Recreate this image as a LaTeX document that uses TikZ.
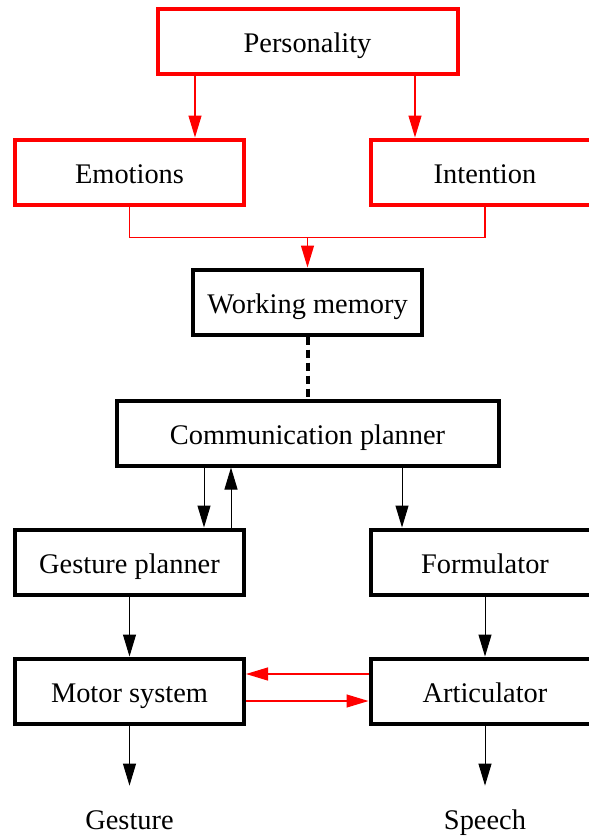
\documentclass[tikz,border=0pt]{standalone}
\usepackage{fontspec}
\setmainfont{Liberation Serif}
\usetikzlibrary{arrows.meta}
\begin{document}
\begin{tikzpicture}[x=0.5pt,y=-0.5pt,
  box/.style={draw,line width=2pt,minimum width=114.5pt,minimum height=32.5pt,inner sep=0pt,text height=12.5pt,text depth=1.5pt,font=\fontsize{14.2}{17}\selectfont},
  redbox/.style={box,draw=red},
  arr/.style={line width=0.5pt,-{Triangle[length=11pt,width=6.5pt]}},
  redarr/.style={arr,line width=0.6pt,color=red},
  redline/.style={line width=0.6pt,color=red},
  outtext/.style={inner sep=0pt,anchor=base,text height=10pt,font=\fontsize{14.2}{17}\selectfont}
]
\useasboundingbox (0,0) rectangle (589,836);
% nodes
\node[redbox,minimum width=150pt] (pers) at (307.5,41.5) {Personality};
\node[redbox] (emo) at (129.5,172) {Emotions};
\node[redbox] (int) at (485,172) {Intention};
\node[box] (wm) at (307.5,302) {Working memory};
\node[box,minimum width=191pt] (cp) at (307.5,433) {Communication planner};
\node[box] (gp) at (129.5,562) {Gesture planner};
\node[box] (form) at (485,562) {Formulator};
\node[box] (mot) at (129.5,691) {Motor system};
\node[box] (art) at (485,691) {Articulator};
\node[outtext] (gest) at (129.5,829) {Gesture};
\node[outtext] (speech) at (485,829) {Speech};
% helper coordinates
\coordinate (xa) at (195,0);
\coordinate (xb) at (415,0);
\coordinate (jn) at (307.5,237.5);
\coordinate (xc) at (204,0);
\coordinate (xd) at (231,0);
\coordinate (xe) at (402,0);
\coordinate (ya) at (0,674);
\coordinate (yb) at (0,701);
% connectors
\draw[redarr] (pers.south -| xa) -- (emo.north -| xa);
\draw[redarr] (pers.south -| xb) -- (int.north -| xb);
\draw[redline] (emo.south) |- (jn) -| (int.south);
\draw[redarr] (jn) -- (wm.north);
\draw[line width=2pt,dash pattern=on 4pt off 2.5pt] (wm.south) -- (cp.north);
\draw[arr] (cp.south -| xc) -- (gp.north -| xc);
\draw[arr] (gp.north -| xd) -- (cp.south -| xd);
\draw[arr] (cp.south -| xe) -- (form.north -| xe);
\draw[arr] (gp) -- (mot);
\draw[arr] (form) -- (art);
\draw[redarr] (art.west |- ya) -- (mot.east |- ya);
\draw[redarr] (mot.east |- yb) -- (art.west |- yb);
\draw[arr,shorten >=11.5pt] (mot.south) -- (gest.north);
\draw[arr,shorten >=11.5pt] (art.south) -- (speech.north);
\end{tikzpicture}
\end{document}
